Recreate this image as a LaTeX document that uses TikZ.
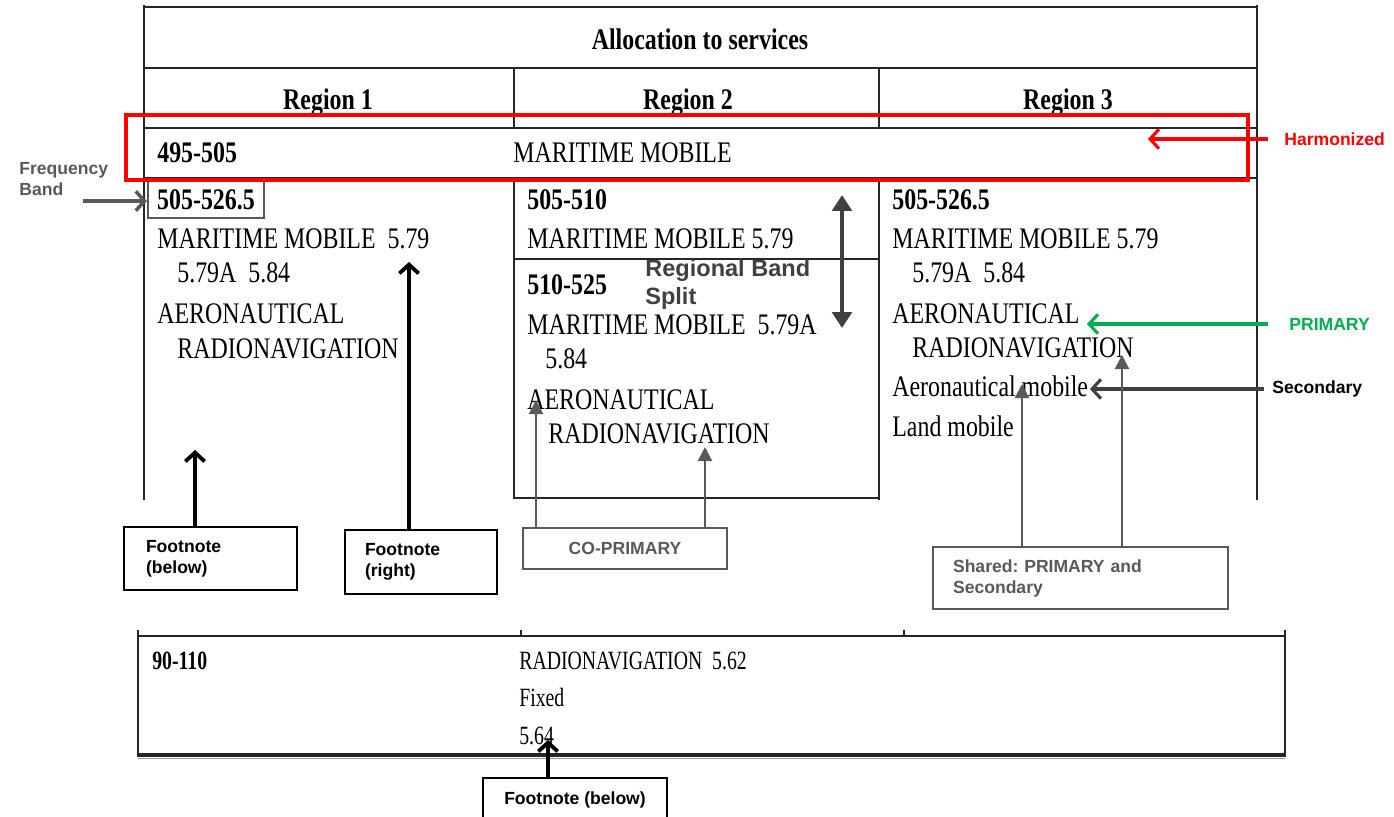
\documentclass[tikz,border=0pt]{standalone}
\usepackage{fontspec}
\setmainfont{Liberation Serif}
\setsansfont{Liberation Sans}
\newfontfamily\cellfont{Liberation Serif}[FakeStretch=0.8]
\newfontfamily\lowcellfont{Liberation Serif}[FakeStretch=0.75]
\usetikzlibrary{positioning}
\usetikzlibrary{arrows.meta}
\definecolor{harmred}{rgb}{1,0,0}
\definecolor{primgreen}{rgb}{0,0.69,0.31}
\definecolor{notegray}{rgb}{0.35,0.35,0.35}
\definecolor{darkarrow}{rgb}{0.25,0.25,0.25}

\tikzset{
  rule/.style={line width=0.6pt, black!85},
  cell/.style={anchor=base west, inner sep=0pt, font=\cellfont\fontsize{17}{20}\selectfont},
  cellbold/.style={cell, font=\cellfont\bfseries\fontsize{17}{20}\selectfont},
  lowcell/.style={anchor=base west, inner sep=0pt, font=\lowcellfont\fontsize{15}{18}\selectfont},
  lowcellbold/.style={lowcell, font=\lowcellfont\bfseries\fontsize{15}{18}\selectfont},
  notelabel/.style={inner sep=0pt, font=\sffamily\bfseries\fontsize{10}{12}\selectfont},
  notebox/.style={draw, line width=1.2pt, inner ysep=0pt, align=left,
    font=\sffamily\bfseries\fontsize{10}{12}\selectfont},
  fnarrow/.style={line width=2.2pt, black, -{Straight Barb[length=5pt,width=11pt]}},
  barbarrow/.style={line width=1.8pt, -{Straight Barb[length=5pt,width=11pt]}},
  triarrow/.style={line width=1.2pt, notegray, -{Triangle[length=8pt,width=8pt]}},
  splitarrow/.style={line width=2.6pt, darkarrow,
    {Triangle[length=9pt,width=11pt]}-{Triangle[length=9pt,width=11pt]}}
}

\begin{document}
\frenchspacing
\begin{tikzpicture}[x=0.02cm, y=-0.02cm]

  \useasboundingbox (0,0) rectangle (1394,816);

  % upper table
  \draw[rule] (144,7) -- (1257,7);
  \draw[rule] (144,68) -- (1257,68);
  \draw[rule] (144,128) -- (1257,128);
  \draw[rule] (144,178) -- (1257,178);
  \draw[rule] (144,5) -- (144,500);
  \draw[rule] (1257,5) -- (1257,500);
  \draw[rule] (514,68) -- (514,128);
  \draw[rule] (879,68) -- (879,128);
  \draw[rule] (514,178) -- (514,498) -- (879,498);
  \draw[rule] (879,178) -- (879,500);
  \draw[rule] (514,259) -- (879,259);

  \node[cellbold, anchor=base] (alloc) at (700,49) {Allocation to services};
  \node[cellbold, anchor=base] (reg1) at (328,109) {Region 1};
  \node[cellbold, anchor=base] (reg2) at (688,109) {Region 2};
  \node[cellbold, anchor=base] (reg3) at (1068,109) {Region 3};

  \node[cellbold] (hband) at (157,162) {495-505};
  \node[cell] (hserv) at (513,162) {MARITIME MOBILE};

  % region 1
  \node[cellbold, anchor=center, draw=notegray, line width=1.2pt,
    minimum width=2.32cm, minimum height=0.74cm] (r1band) at (206,199.5) {505-526.5};
  \node[cell] (r1mm) at (157,248) {MARITIME MOBILE\ \ 5.79};
  \node[cell] (r1fn) at (177,282) {5.79A\ \ 5.84};
  \node[cell] (r1aero) at (157,323) {AERONAUTICAL};
  \node[cell] (r1radio) at (177,358) {RADIONAVIGATION};

  % region 2
  \node[cellbold] (r2banda) at (527,209) {505-510};
  \node[cell] (r2mma) at (527,248) {MARITIME MOBILE 5.79};
  \node[cellbold] (r2bandb) at (527,294) {510-525};
  \node[cell] (r2mmb) at (527,334) {MARITIME MOBILE\ \ 5.79A};
  \node[cell] (r2fn) at (545,368) {5.84};
  \node[cell] (r2aero) at (527,409) {AERONAUTICAL};
  \node[cell] (r2radio) at (548,443) {RADIONAVIGATION};

  % region 3
  \node[cellbold] (r3band) at (892,209) {505-526.5};
  \node[cell] (r3mm) at (892,248) {MARITIME MOBILE 5.79};
  \node[cell] (r3fn) at (912,282) {5.79A\ \ 5.84};
  \node[cell] (r3aero) at (892,323) {AERONAUTICAL};
  \node[cell] (r3radio) at (912,357) {RADIONAVIGATION};
  \node[cell] (r3aeromob) at (892,396) {Aeronautical mobile};
  \node[cell] (r3land) at (892,436) {Land mobile};

  % harmonized row
  \draw[harmred, line width=2.6pt] (126,115) rectangle (1248,180);
  \node[notelabel, anchor=west, text=harmred] (harm) at (1284,139) {Harmonized};
  \coordinate (harmtip) at (1148,139);
  \draw[barbarrow, harmred, shorten <=9pt] (harm.west) -- (harmtip);

  % frequency band
  \node[notelabel, anchor=north west, align=left, text=notegray] (freq) at (19,162) {Frequency\\Band};
  \coordinate (freqtail) at (83,201);
  \draw[barbarrow, notegray, line width=2pt] (freqtail) -- (r1band.west |- freqtail);

  % regional band split
  \node[inner sep=0pt, anchor=west, align=left, text=darkarrow,
    font=\sffamily\bfseries\fontsize{13.4}{16}\selectfont] (split) at (645,284) {Regional Band\\Split};
  \coordinate (splittop) at (842,195);
  \coordinate (splitbot) at (842,328);
  \draw[splitarrow] (splittop) -- (splitbot);

  % primary and secondary
  \node[notelabel, anchor=west, text=primgreen] (prim) at (1289,324) {PRIMARY};
  \coordinate (primtip) at (1087,324);
  \draw[barbarrow, primgreen, shorten <=12pt] (prim.west) -- (primtip);

  \node[notelabel, anchor=west] (sec) at (1272,389) {Secondary};
  \coordinate (sectip) at (1090,389);
  \draw[barbarrow, darkarrow, shorten <=4.5pt] (sec.west) -- (sectip);

  % footnote boxes
  \node[notebox, inner xsep=0.44cm, text width=2.58cm, minimum height=1.26cm] (fnA) at (210.5,558.5) {Footnote\\(below)};
  \node[notebox, inner xsep=0.4cm, text width=2.24cm, minimum height=1.28cm] (fnB) at (421,562) {Footnote\\(right)};
  \coordinate (fnAtip) at (195,450);
  \coordinate (fnBtip) at (409,262);
  \draw[fnarrow] (fnA.north -| fnAtip) -- (fnAtip);
  \draw[fnarrow] (fnB.north -| fnBtip) -- (fnBtip);

  \node[notebox, draw=notegray, text=notegray, align=center,
    minimum width=4.08cm, minimum height=0.82cm] (coprim) at (625,548.5) {CO-PRIMARY};
  \coordinate (coptipA) at (536,400);
  \coordinate (coptipB) at (705,447);
  \draw[triarrow] (coprim.north -| coptipA) -- (coptipA);
  \draw[triarrow] (coprim.north -| coptipB) -- (coptipB);

  \node[notebox, draw=notegray, text=notegray, inner xsep=0.4cm, text width=5.1cm,
    minimum height=1.24cm] (shared) at (1080.5,578) {Shared: PRIMARY and\\Secondary};
  \coordinate (sharetipA) at (1022,384);
  \coordinate (sharetipB) at (1122,355);
  \draw[triarrow] (shared.north -| sharetipA) -- (sharetipA);
  \draw[triarrow] (shared.north -| sharetipB) -- (sharetipB);

  % lower table
  \draw[line width=1.4pt, black!85] (138,636) -- (1285,636);
  \draw[line width=1.4pt, black!85] (138,630) -- (138,757);
  \draw[line width=1.4pt, black!85] (1285,630) -- (1285,757);
  \draw[line width=1.2pt, black!85] (521,630) -- (521,636);
  \draw[line width=1.2pt, black!85] (904,630) -- (904,636);
  \draw[line width=2.4pt, black!85] (138,755) -- (1285,755);
  \draw[line width=1pt, black!40] (138,758.5) -- (1285,758.5);

  \node[lowcellbold] (lband) at (152,669) {90-110};
  \node[lowcell] (lradio) at (519,669) {RADIONAVIGATION\ \ 5.62};
  \node[lowcell] (lfixed) at (519,706) {Fixed};
  \node[lowcell] (lfn) at (519,744) {5.64};

  \node[notebox, align=center, minimum width=3.68cm, minimum height=0.88cm] (fnC) at (575,800) {Footnote (below)};
  \coordinate (fnCtip) at (548,740);
  \draw[fnarrow] (fnC.north -| fnCtip) -- (fnCtip);

\end{tikzpicture}
\end{document}
